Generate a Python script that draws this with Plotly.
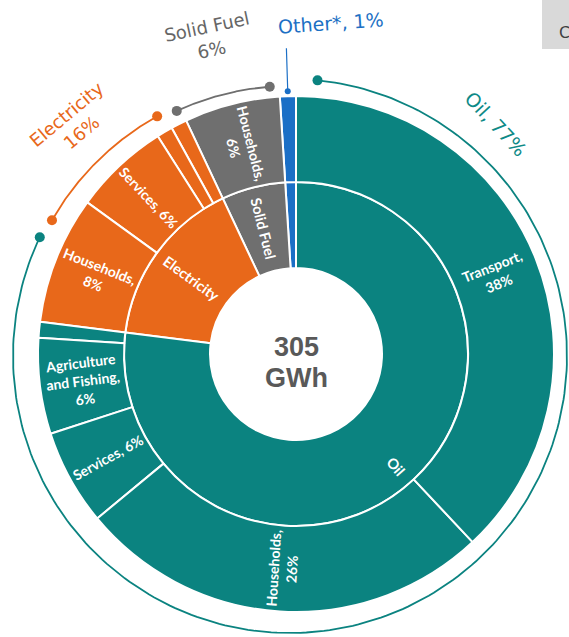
import numpy as np
import plotly.graph_objects as go

W, H = 569, 637

# Energy demand by fuel (inner ring) and by sector (outer ring), % of 305 GWh
fuels = ["Oil", "Electricity", "Solid Fuel", "Other*"]
fuel_share = [77, 16, 6, 1]
fuel_colors = ["#0B8380", "#E8681A", "#6F6F6F", "#1B6FC6"]
fuel_label_colors = ["#0E8A87", "#E8681A", "#666666", "#1C70C4"]
fuel_inner_text = ["Oil", "Electricity", "Solid Fuel", ""]

oil_sectors = ["Transport", "Households", "Services", "Agriculture and Fishing", "Industry"]
oil_share = [38, 26, 6, 6, 1]
oil_text = ["Transport,<br>38%", "Households,<br>26%", "Services, 6%",
            "Agriculture<br>and Fishing,<br>6%", ""]

elec_sectors = ["Households", "Services", "Industry", "Agriculture and Fishing"]
elec_share = [8, 6, 1, 1]
elec_text = ["Households,<br>8%", "Services, 6%", "", ""]

solid_sectors = ["Households"]
solid_share = [6]
solid_text = ["Households,<br>6%"]

other_sectors = ["All sectors"]
other_share = [1]
other_text = [""]

total_value = "305"
total_unit = "GWh"

sector_groups = [
    (oil_sectors, oil_share, oil_text),
    (elec_sectors, elec_share, elec_text),
    (solid_sectors, solid_share, solid_text),
    (other_sectors, other_share, other_text),
]

# ring geometry in pixels
CX, CY, R = 296, 354, 258
RING = R / 3.0               # centre disc, fuel ring, sector ring
# radial position of fuel-ring labels (in ring widths from the centre)
inner_label_pos = {"Oil": 1.75}
INNER_FONT, OUTER_FONT = 14.5, 14

def to_px(theta_deg, r, cx=CX, cy=CY):
    t = np.radians(theta_deg)
    return cx + r * np.sin(t), cy - r * np.cos(t)

def radial_angle(theta_deg):
    a = theta_deg - 90 if theta_deg <= 180 else theta_deg - 270
    return float(a)

# Build hierarchy (clockwise order from 12 o'clock) and segment labels
ids, labels, parents, values, colors = [], [], [], [], []
seg_labels = []   # (text, theta, radius, size)
total = float(sum(fuel_share))
cum_f = 0.0
for f, share, col, itxt, (secs, sh, stx) in zip(
        fuels, fuel_share, fuel_colors, fuel_inner_text, sector_groups):
    ids.append(f); labels.append(f); parents.append("total")
    values.append(share); colors.append(col)
    if itxt:
        seg_labels.append((itxt, (cum_f + share / 2) / total * 360,
                           inner_label_pos.get(f, 1.5) * RING, INNER_FONT))
    cum_s = cum_f
    for s, v, t in zip(secs, sh, stx):
        ids.append(f + "/" + s); labels.append(s); parents.append(f)
        values.append(v); colors.append(col)
        if t:
            seg_labels.append((t, (cum_s + v / 2) / total * 360, 2.5 * RING, OUTER_FONT))
        cum_s += v
    cum_f += share

# sunburst lays slices counter-clockwise, so reverse for clockwise reading
ids, labels, parents = ids[::-1], labels[::-1], parents[::-1]
values, colors = values[::-1], colors[::-1]

ids = ["total"] + ids
labels = [total_value + " " + total_unit] + labels
parents = [""] + parents
values = [sum(fuel_share)] + values
colors = ["#FFFFFF"] + colors

dom_x = [(CX - R) / W, (CX + R) / W]
dom_y = [1 - (CY + R) / H, 1 - (CY - R) / H]

fig = go.Figure()
fig.add_trace(go.Sunburst(
    ids=ids, labels=labels, parents=parents, values=values,
    branchvalues="total", sort=False, rotation=90,
    textinfo="none",
    marker=dict(colors=colors, line=dict(color="white", width=2)),
    leaf=dict(opacity=1),
    hoverinfo="label+value",
    domain=dict(x=dom_x, y=dom_y),
))

# bracket arcs around each fuel group: (start, end) clockwise from top, radius, centre
arc_specs = {
    "Oil": (5.7, 295.4, 277, (290, 356)),
    "Electricity": (299.7, 331.0, 274, (290, 356)),
    "Solid Fuel": (335.2, 355.7, 270, (290, 356)),
}
for f, col in zip(fuels, fuel_colors):
    if f not in arc_specs:
        continue
    a0, a1, ra, (acx, acy) = arc_specs[f]
    th = np.linspace(a0, a1, 240)
    xs, ys = to_px(th, ra, acx, acy)
    fig.add_trace(go.Scatter(x=xs, y=ys, mode="lines",
                             line=dict(color=col, width=1.8),
                             hoverinfo="skip", showlegend=False, cliponaxis=False))
    ex, ey = to_px(np.array([a0, a1]), ra, acx, acy)
    fig.add_trace(go.Scatter(x=ex, y=ey, mode="markers",
                             marker=dict(color=col, size=10),
                             hoverinfo="skip", showlegend=False, cliponaxis=False))

# leader line for the thin "Other*" slice
other_theta = (total - fuel_share[3] / 2) / total * 360
lx, ly = to_px(np.array([other_theta, other_theta]), np.array([R + 5, R + 48]))
fig.add_trace(go.Scatter(x=lx, y=ly, mode="lines",
                         line=dict(color=fuel_colors[3], width=1.2),
                         hoverinfo="skip", showlegend=False, cliponaxis=False))
fig.add_trace(go.Scatter(x=lx[:1], y=ly[:1], mode="markers",
                         marker=dict(color=fuel_colors[3], size=6),
                         hoverinfo="skip", showlegend=False, cliponaxis=False))

annotations = []
# labels inside the ring segments, oriented along the radius
for txt, th, r, size in seg_labels:
    x, y = to_px(th, r)
    annotations.append(dict(
        text=txt, x=float(x), y=float(y), xref="x", yref="y",
        xanchor="center", yanchor="middle", showarrow=False,
        textangle=radial_angle(th),
        font=dict(family="Lato, sans-serif", size=size, color="white", weight="bold"),
    ))

# total in the centre
for txt, y in ((total_value, 347), (total_unit, 378)):
    annotations.append(dict(
        text="<b>" + txt + "</b>", x=CX, y=y, xref="x", yref="y",
        xanchor="center", yanchor="middle", showarrow=False,
        font=dict(family="Liberation Sans, Arial, sans-serif", size=27, color="#595959"),
    ))

# group labels outside the ring
outer_labels = [
    ("Oil, 77%", 496, 124, 47, fuel_label_colors[0], 19),
    ("Electricity<br>16%", 74, 123, -40, fuel_label_colors[1], 18),
    ("Solid Fuel<br>6%", 209, 38, -12, fuel_label_colors[2], 18),
    ("Other*, 1%", 331, 23, -4, fuel_label_colors[3], 19),
]
for txt, x, y, ang, col, size in outer_labels:
    annotations.append(dict(
        text=txt, x=x, y=y, xref="x", yref="y",
        xanchor="center", yanchor="middle", showarrow=False,
        textangle=ang, font=dict(family="DejaVu Sans, sans-serif", size=size, color=col),
    ))

# note box at the top right edge
annotations.append(dict(
    text="C", x=557, y=32, xref="x", yref="y", xanchor="left",
    yanchor="middle", showarrow=False,
    font=dict(family="DejaVu Sans, sans-serif", size=16, color="#404040")))

fig.update_layout(
    width=W, height=H,
    margin=dict(l=0, r=0, t=0, b=0),
    paper_bgcolor="white", plot_bgcolor="rgba(0,0,0,0)",
    showlegend=False,
    xaxis=dict(range=[0, W], visible=False, domain=[0, 1], fixedrange=True),
    yaxis=dict(range=[H, 0], visible=False, domain=[0, 1], fixedrange=True),
    annotations=annotations,
    shapes=[dict(type="rect", xref="x", yref="y",
                 x0=542, x1=W + 5, y0=49, y1=-5,
                 fillcolor="#D9D9D9", line=dict(width=0), layer="below")],
)

fig.write_html("out.html")
